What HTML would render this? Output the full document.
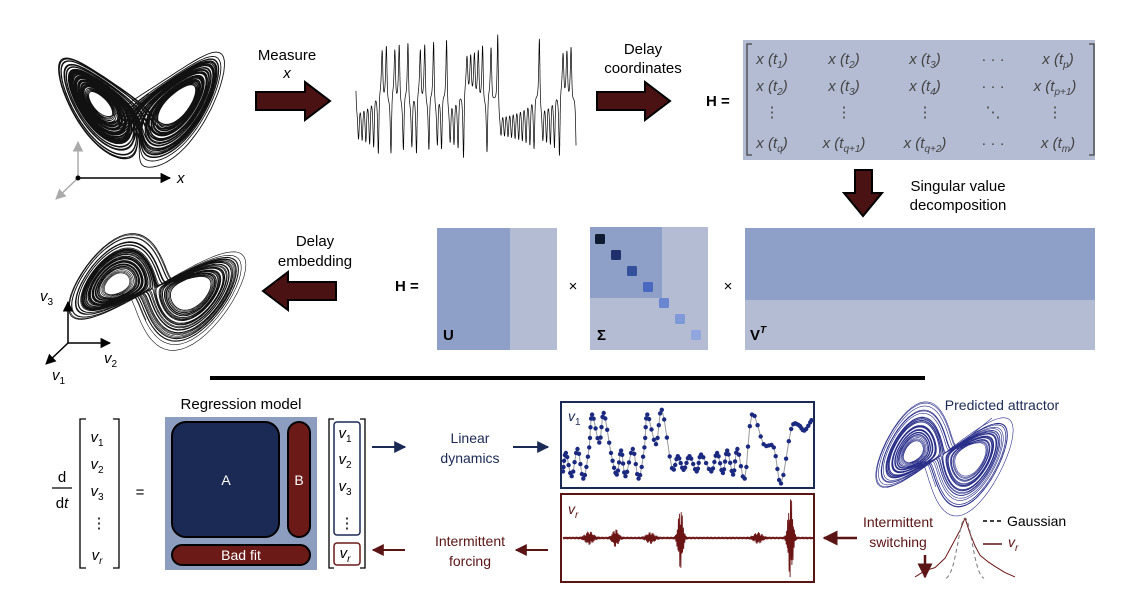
<!DOCTYPE html>
<html><head><meta charset="utf-8"><style>
html,body{margin:0;padding:0;background:#fff;}
svg{display:block;font-family:"Liberation Sans",sans-serif;}
</style></head><body>
<svg id="fig" width="1125" height="598" viewBox="0 0 1125 598" xmlns="http://www.w3.org/2000/svg">
<defs>
<marker id="ah" viewBox="0 0 10 10" refX="9" refY="5" markerWidth="7" markerHeight="7" orient="auto"><path d="M0,0 L10,5 L0,10 z" fill="#000"/></marker>
<marker id="ahg" viewBox="0 0 10 10" refX="9" refY="5" markerWidth="7" markerHeight="7" orient="auto"><path d="M0,0 L10,5 L0,10 z" fill="#aaa"/></marker>
<marker id="ahn" viewBox="0 0 10 10" refX="9" refY="5" markerWidth="6" markerHeight="6" orient="auto"><path d="M0,0 L10,5 L0,10 z" fill="#1b2a55"/></marker>
<marker id="ahr" viewBox="0 0 10 10" refX="9" refY="5" markerWidth="6" markerHeight="6" orient="auto"><path d="M0,0 L10,5 L0,10 z" fill="#5a1414"/></marker>
</defs>

<g id="attr1"></g>
<g>
<line x1="78" y1="178" x2="78" y2="142" stroke="#aaa" stroke-width="1.5" marker-end="url(#ahg)"/>
<line x1="78" y1="178" x2="56" y2="199" stroke="#aaa" stroke-width="1.5" marker-end="url(#ahg)"/>
<line x1="78" y1="178" x2="170" y2="178" stroke="#000" stroke-width="1.5" marker-end="url(#ah)"/>
<circle cx="78" cy="178" r="2.5" fill="#000"/>
<text x="177" y="183" font-size="15" font-style="italic">x</text>
</g>

<text x="287" y="60" font-size="15" text-anchor="middle">Measure</text>
<text x="287" y="78" font-size="15" font-style="italic" text-anchor="middle">x</text>
<path d="M256,92 L305,92 L305,82 L330,101 L305,120 L305,110 L256,110 Z" fill="#4a1212" stroke="#000" stroke-width="2"/>

<g id="series"></g>

<text x="643" y="54" font-size="15" text-anchor="middle">Delay</text>
<text x="643" y="73" font-size="15" text-anchor="middle">coordinates</text>
<path d="M597,92 L645,92 L645,82 L670,101 L645,120 L645,110 L597,110 Z" fill="#4a1212" stroke="#000" stroke-width="2"/>

<text x="706" y="106" font-size="15" font-weight="bold">H =</text>
<g>
<rect x="743" y="40" width="352" height="120" fill="#b3bcd3"/>
<path d="M752,44 L747,44 L747,155 L752,155 M1089,44 L1094,44 L1094,155 L1089,155" stroke="#444" stroke-width="1.3" fill="none"/>
<g font-size="15" fill="#444" font-style="italic" text-anchor="middle">
<text x="772" y="64">x (t<tspan font-size="10" dy="4">1</tspan><tspan dy="-4">)</tspan></text>
<text x="844" y="64">x (t<tspan font-size="10" dy="4">2</tspan><tspan dy="-4">)</tspan></text>
<text x="925" y="64">x (t<tspan font-size="10" dy="4">3</tspan><tspan dy="-4">)</tspan></text>
<text x="993" y="64" font-style="normal">· · ·</text>
<text x="1058" y="64">x (t<tspan font-size="10" dy="4">p</tspan><tspan dy="-4">)</tspan></text>
<text x="772" y="91">x (t<tspan font-size="10" dy="4">2</tspan><tspan dy="-4">)</tspan></text>
<text x="844" y="91">x (t<tspan font-size="10" dy="4">3</tspan><tspan dy="-4">)</tspan></text>
<text x="925" y="91">x (t<tspan font-size="10" dy="4">4</tspan><tspan dy="-4">)</tspan></text>
<text x="993" y="91" font-style="normal">· · ·</text>
<text x="1055" y="91">x (t<tspan font-size="10" dy="4">p+1</tspan><tspan dy="-4">)</tspan></text>
<text x="772" y="117" font-style="normal">⋮</text>
<text x="844" y="117" font-style="normal">⋮</text>
<text x="925" y="117" font-style="normal">⋮</text>
<text x="993" y="117" font-style="normal">⋱</text>
<text x="1055" y="117" font-style="normal">⋮</text>
<text x="772" y="148">x (t<tspan font-size="10" dy="4">q</tspan><tspan dy="-4">)</tspan></text>
<text x="844" y="148">x (t<tspan font-size="10" dy="4">q+1</tspan><tspan dy="-4">)</tspan></text>
<text x="925" y="148">x (t<tspan font-size="10" dy="4">q+2</tspan><tspan dy="-4">)</tspan></text>
<text x="993" y="148" font-style="normal">· · ·</text>
<text x="1058" y="148">x (t<tspan font-size="10" dy="4">m</tspan><tspan dy="-4">)</tspan></text>
</g></g>

<path d="M855,170 L872,170 L872,193 L882,193 L863,216 L844,193 L855,193 Z" fill="#4a1212" stroke="#000" stroke-width="2"/>
<text x="958" y="191" font-size="15" text-anchor="middle">Singular value</text>
<text x="958" y="210" font-size="15" text-anchor="middle">decomposition</text>

<g id="attr2"></g>
<g>
<line x1="68" y1="343" x2="68" y2="302" stroke="#000" stroke-width="1.5" marker-end="url(#ah)"/>
<line x1="68" y1="343" x2="110" y2="343" stroke="#000" stroke-width="1.5" marker-end="url(#ah)"/>
<line x1="68" y1="343" x2="46" y2="364" stroke="#000" stroke-width="1.5" marker-end="url(#ah)"/>
<text x="40" y="301" font-size="15" font-style="italic">v<tspan font-size="10" dy="4" font-style="normal">3</tspan></text>
<text x="104" y="363" font-size="15" font-style="italic">v<tspan font-size="10" dy="4" font-style="normal">2</tspan></text>
<text x="52" y="380" font-size="15" font-style="italic">v<tspan font-size="10" dy="4" font-style="normal">1</tspan></text>
</g>
<text x="315" y="246" font-size="15" text-anchor="middle">Delay</text>
<text x="315" y="266" font-size="15" text-anchor="middle">embedding</text>
<path d="M336,282 L288,282 L288,272 L263,291 L288,310 L288,300 L336,300 Z" fill="#4a1212" stroke="#000" stroke-width="2"/>

<text x="395" y="291" font-size="15" font-weight="bold">H =</text>
<g>
<rect x="437" y="228" width="120" height="122" fill="#b3bcd3"/>
<rect x="437" y="228" width="73" height="122" fill="#8fa0c8"/>
<text x="443" y="340" font-size="15" font-weight="bold">U</text></g>
<text x="573" y="291" font-size="15" text-anchor="middle">×</text>
<g>
<rect x="590" y="227" width="118" height="123" fill="#b3bcd3"/>
<rect x="590" y="227" width="72" height="71" fill="#8fa0c8"/>
<rect x="595" y="234" width="10" height="10" rx="1.5" fill="#0f1a33"/>
<rect x="611" y="250" width="10" height="10" rx="1.5" fill="#1e2f6b"/>
<rect x="627" y="266" width="10" height="10" rx="1.5" fill="#34509a"/>
<rect x="643" y="282" width="10" height="10" rx="1.5" fill="#4a68c0"/>
<rect x="659" y="298" width="10" height="10" rx="1.5" fill="#6a86d0"/>
<rect x="675" y="314" width="10" height="10" rx="1.5" fill="#7f98d8"/>
<rect x="691" y="330" width="10" height="10" rx="1.5" fill="#91a6dc"/>
<text x="597" y="340" font-size="15" font-weight="bold">Σ</text></g>
<text x="728" y="291" font-size="15" text-anchor="middle">×</text>
<g>
<rect x="745" y="228" width="350" height="122" fill="#b3bcd3"/>
<rect x="745" y="228" width="350" height="72" fill="#8fa0c8"/>
<text x="750" y="340" font-size="15" font-weight="bold">V<tspan font-size="10" dy="-7" font-style="italic">T</tspan></text></g>

<line x1="210" y1="378" x2="925" y2="378" stroke="#000" stroke-width="4"/>

<g font-size="15">
<text x="62" y="482" text-anchor="middle">d</text>
<line x1="52" y1="488" x2="72" y2="488" stroke="#000" stroke-width="1.2"/>
<text x="62" y="508" text-anchor="middle">d<tspan font-style="italic">t</tspan></text>
<path d="M86,419 L80,419 L80,568 L86,568 M113,419 L119,419 L119,568 L113,568" stroke="#000" stroke-width="1.3" fill="none"/>
<g font-style="italic" text-anchor="middle">
<text x="97" y="442">v<tspan font-size="10" dy="4" font-style="normal">1</tspan></text>
<text x="97" y="469">v<tspan font-size="10" dy="4" font-style="normal">2</tspan></text>
<text x="97" y="496">v<tspan font-size="10" dy="4" font-style="normal">3</tspan></text>
<text x="99" y="528" font-style="normal">⋮</text>
<text x="97" y="560">v<tspan font-size="10" dy="4">r</tspan></text></g>
<text x="140" y="497" text-anchor="middle">=</text>
</g>

<g>
<text x="241" y="409" font-size="15" text-anchor="middle">Regression model</text>
<rect x="165" y="417" width="152" height="153" fill="#8d9dbf"/>
<rect x="172" y="422" width="107" height="115" rx="14" fill="#1b2a55" stroke="#000" stroke-width="2"/>
<text x="226" y="485" font-size="14" fill="#fff" text-anchor="middle">A</text>
<rect x="288" y="422" width="22" height="115" rx="11" fill="#6b1a18" stroke="#000" stroke-width="2"/>
<text x="299" y="485" font-size="14" fill="#fff" text-anchor="middle">B</text>
<rect x="172" y="545" width="138" height="20" rx="10" fill="#6b1a18" stroke="#000" stroke-width="2"/>
<text x="241" y="560" font-size="14" fill="#fff" text-anchor="middle">Bad fit</text>
</g>

<g font-size="15">
<path d="M334,419 L329,419 L329,568 L334,568 M360,419 L365,419 L365,568 L360,568" stroke="#000" stroke-width="1.3" fill="none"/>
<rect x="334" y="422" width="26" height="113" rx="3" fill="none" stroke="#1b2a55" stroke-width="1.5"/>
<rect x="334" y="543" width="26" height="22" rx="3" fill="none" stroke="#6b1a18" stroke-width="1.5"/>
<g font-style="italic" text-anchor="middle">
<text x="345" y="438">v<tspan font-size="10" dy="4" font-style="normal">1</tspan></text>
<text x="345" y="464">v<tspan font-size="10" dy="4" font-style="normal">2</tspan></text>
<text x="345" y="491">v<tspan font-size="10" dy="4" font-style="normal">3</tspan></text>
<text x="347" y="528" font-style="normal">⋮</text>
<text x="345" y="558">v<tspan font-size="10" dy="4">r</tspan></text></g>
</g>

<line x1="372" y1="447" x2="405" y2="447" stroke="#1b2a55" stroke-width="2" marker-end="url(#ahn)"/>
<text x="470" y="443" font-size="14" fill="#1b2a55" text-anchor="middle">Linear</text>
<text x="470" y="463" font-size="14" fill="#1b2a55" text-anchor="middle">dynamics</text>
<line x1="513" y1="447" x2="548" y2="447" stroke="#1b2a55" stroke-width="2" marker-end="url(#ahn)"/>

<line x1="405" y1="550" x2="373" y2="550" stroke="#5a1414" stroke-width="2" marker-end="url(#ahr)"/>
<text x="470" y="546" font-size="14" fill="#5a1414" text-anchor="middle">Intermittent</text>
<text x="470" y="566" font-size="14" fill="#5a1414" text-anchor="middle">forcing</text>
<line x1="548" y1="550" x2="516" y2="550" stroke="#5a1414" stroke-width="2" marker-end="url(#ahr)"/>

<g id="v1plot">
<rect x="561" y="402" width="253" height="86" fill="#fff" stroke="#1b2a55" stroke-width="2"/>
<text x="568" y="421" font-size="14" font-style="italic" fill="#1b2a55">v<tspan font-size="10" dy="4" font-style="normal">1</tspan></text>
</g>
<g id="vrplot">
<rect x="561" y="494" width="253" height="88" fill="#fff" stroke="#5a1414" stroke-width="2"/>
<text x="568" y="514" font-size="14" font-style="italic" fill="#5a1414">v<tspan font-size="10" dy="4">r</tspan></text>
</g>
<line x1="857" y1="538" x2="824" y2="538" stroke="#5a1414" stroke-width="2.5" marker-end="url(#ahr)"/>

<g id="attr3"></g>
<text x="1002" y="410" font-size="14" fill="#1b2a55" text-anchor="middle">Predicted attractor</text>
<line x1="992" y1="418" x2="965" y2="440" stroke="#3a3f9a" stroke-width="0.8"/>

<text x="898" y="527" font-size="14" fill="#5a1414" text-anchor="middle">Intermittent</text>
<text x="898" y="547" font-size="14" fill="#5a1414" text-anchor="middle">switching</text>
<line x1="925" y1="555" x2="925" y2="577" stroke="#5a1414" stroke-width="2.5" marker-end="url(#ahr)"/>
<g id="dist"></g>
<g font-size="14">
<line x1="983" y1="521" x2="1002" y2="521" stroke="#000" stroke-width="1.5" stroke-dasharray="4,3"/>
<text x="1007" y="526">Gaussian</text>
<line x1="983" y1="544" x2="1002" y2="544" stroke="#5a1414" stroke-width="1.5"/>
<text x="1008" y="547" font-style="italic" fill="#5a1414">v<tspan font-size="10" dy="4">r</tspan></text>
</g>
</svg>
<script>
// v1 data (time fraction, normalized value)
const v1T=[0,0.02,0.06,0.1,0.14,0.18,0.2,0.25,0.28,0.33,0.37,0.4,0.43,0.48,0.52,0.56,0.58,0.64,0.68,0.75,0.79,0.83,0.87,0.92,0.95,1.02,1.06,1.1,1.13,1.17,1.2,1.25,1.3,1.38,1.45,1.5,1.57,1.62,1.66,1.71];
const v1V=[0.17,0.4,0.11,0.45,0.08,0.47,0.88,0.53,0.9,0.4,0.13,0.43,0.11,0.45,0.08,0.47,0.88,0.51,0.94,0.21,0.36,0.19,0.36,0.17,0.38,0.17,0.4,0.15,0.43,0.13,0.45,0.08,0.88,0.51,0.47,0.02,0.7,0.75,0.68,0.81];
// vr bursts (time fraction, amplitude)
const burstT=[0.105,0.21,0.35,0.47,0.78,0.91];
const burstA=[0.18,0.25,0.15,0.95,0.15,1.3];
const burstW=[0.02,0.015,0.02,0.012,0.02,0.012];
// vr distribution (value grid, density)
const distX=[-1,-0.8,-0.6,-0.4,-0.3,-0.2,-0.1,0,0.1,0.2,0.3,0.45,0.6,0.8,1];
const distY=[0.05,0.15,0.2,0.35,0.5,0.65,0.8,1,0.75,0.55,0.4,0.3,0.22,0.12,0.05];
const NS="http://www.w3.org/2000/svg";
function mk(tag,attrs,parent){const e=document.createElementNS(NS,tag);for(const k in attrs)e.setAttribute(k,attrs[k]);parent.appendChild(e);return e;}
function lorenz(n,dt,start){let x=start[0],y=start[1],z=start[2];const out=[];
 const f=(x,y,z)=>[10*(y-x),x*(28-z)-y,x*y-8/3*z];
 for(let i=0;i<n;i++){const k1=f(x,y,z),k2=f(x+dt/2*k1[0],y+dt/2*k1[1],z+dt/2*k1[2]),k3=f(x+dt/2*k2[0],y+dt/2*k2[1],z+dt/2*k2[2]),k4=f(x+dt*k3[0],y+dt*k3[1],z+dt*k3[2]);
 x+=dt/6*(k1[0]+2*k2[0]+2*k3[0]+k4[0]);y+=dt/6*(k1[1]+2*k2[1]+2*k3[1]+k4[1]);z+=dt/6*(k1[2]+2*k2[2]+2*k3[2]+k4[2]);out.push([x,y,z]);}
 return out;}
const traj=lorenz(11000,0.008,[1,1,20]).slice(300);
function poly(pts,g,stroke,w,name){let d="";pts.forEach((p,i)=>{d+=(i?"L":"M")+p[0].toFixed(1)+","+p[1].toFixed(1);});
 const e=mk("path",{d:d,fill:"none",stroke:stroke,"stroke-width":w,"stroke-linejoin":"round"},g);
 
 return e;}
const R2=Math.SQRT1_2;
function fig8(p,cx,cy,hs,vs,sh){const h=(p[0]+p[1])*R2, d=(p[1]-p[0])*R2;
 const v=-d; return [cx+h*hs, cy+v*vs+h*hs*sh];}
// attractor 1
poly(traj.map(p=>[139+p[0]*4.6,170-(p[2]-3)*2.75]),document.getElementById('attr1'),"#111",0.9,'attractor-trajectory');
// attractor 2
poly(traj.map(p=>fig8(p,154,288,3.1,6,0.1)),document.getElementById('attr2'),"#111",0.6,'embedded-trajectory');
// attractor 3
poly(traj.slice(0,6000).map(p=>fig8(p,942,455,2.4,5.9,0.1)),document.getElementById('attr3'),"#2a2f8a",0.6,'predicted-trajectory');
// measured x series
const ser=document.getElementById('series');const sp=traj.slice(0,5000);
poly(sp.map((p,i)=>[356+i/(sp.length-1)*220,98-p[0]*3.4]),ser,"#000",0.7,'x-series-line');
// v1 plot
const v1g=document.getElementById('v1plot');
const tx=t=>563+t/1.72*250, vy=v=>485-v*80;
const pts=[];
for(let i=0;i<v1T.length-1;i++){const p0=[v1T[Math.max(i-1,0)],v1V[Math.max(i-1,0)]],p1=[v1T[i],v1V[i]],p2=[v1T[i+1],v1V[i+1]],p3=[v1T[Math.min(i+2,v1T.length-1)],v1V[Math.min(i+2,v1T.length-1)]];
 for(let s=0;s<4;s++){const u=s/4,u2=u*u,u3=u2*u;const c=(a,b,c2,d)=>0.5*(2*b+(-a+c2)*u+(2*a-5*b+4*c2-d)*u2+(-a+3*b-3*c2+d)*u3);
 pts.push([c(p0[0],p1[0],p2[0],p3[0]),c(p0[1],p1[1],p2[1],p3[1])]);}}
pts.push([v1T[v1T.length-1],v1V[v1V.length-1]]);
poly(pts.map(p=>[tx(p[0]),vy(Math.max(0,Math.min(1,p[1])))]),v1g,"#999",1,'v1-line');
pts.forEach(p=>{const c=mk("circle",{cx:tx(p[0]).toFixed(1),cy:vy(Math.max(0,Math.min(1,p[1]))).toFixed(1),r:2.2,fill:"#1b2a80"},v1g);
 
 });
// vr plot
const vrg=document.getElementById('vrplot');const vr=[];
for(let i=0;i<=700;i++){const t=i/700;let a=0.03;burstT.forEach((bt,k)=>{const d=(t-bt)/burstW[k];a+=burstA[k]*Math.exp(-d*d);});
 vr.push([563+t*250,538-a*32*Math.sin(i*2.3)]);}
poly(vr,vrg,"#6b1414",0.9,'vr-line');
// distribution
const dg=document.getElementById('dist');const dx=v=>965+v*50,dy=d=>580-d*62;
poly(distX.map((v,i)=>[dx(v),dy(distY[i])]),dg,"#6b1414",1,'vr-density-line');
const gp=[];for(let v=-0.38;v<=0.4;v+=0.02){gp.push([dx(v),dy(Math.exp(-v*v/0.04))]);}
const gl=poly(gp,dg,"#777",1,'gaussian-line');gl.setAttribute('stroke-dasharray','4,3');
</script>
</body></html>
